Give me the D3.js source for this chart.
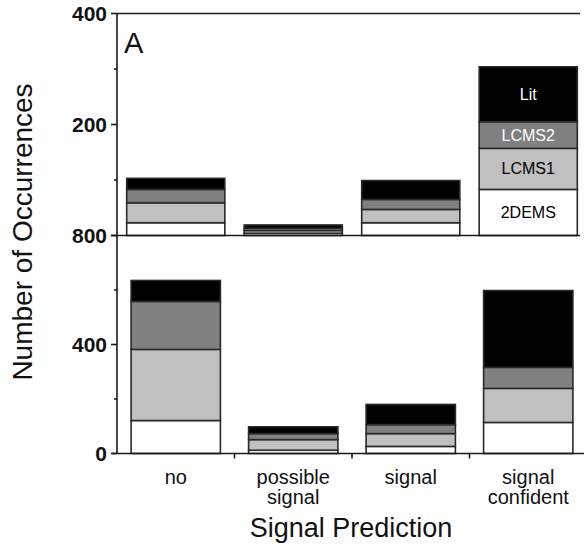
<!DOCTYPE html>
<html>
<head>
<meta charset="utf-8">
<script src="https://cdn.jsdelivr.net/npm/d3@7"></script>
<style>
  html, body { margin: 0; padding: 0; background: #fff; }
  svg { display: block; font-family: "Liberation Sans", Arial, sans-serif; }
</style>
</head>
<body>
<svg id="chart" width="584" height="548"></svg>
<script>
// ---- data ----
const categories = ["no", "possible signal", "signal", "signal confident"];
const categoryLines = [["no"], ["possible", "signal"], ["signal"], ["signal", "confident"]];
const seriesNames = ["2DEMS", "LCMS1", "LCMS2", "Lit"];
const seriesColors = ["#ffffff", "#c0c0c0", "#808080", "#000000"];
const seriesLabelColors = ["#000000", "#000000", "#ffffff", "#ffffff"];

// top panel (scale 0-400)
const top2DEMS = [23, 4, 23, 83];
const topLCMS1 = [36, 5, 24, 74];
const topLCMS2 = [24, 4, 18, 48];
const topLit   = [20, 6, 34, 99];

// bottom panel (scale 0-800)
const bot2DEMS = [121, 12, 26, 114];
const botLCMS1 = [261, 39, 47, 125];
const botLCMS2 = [176, 22, 33, 77];
const botLit   = [77, 25, 74, 282];

const topTicks = [0, 100, 200, 300, 400];
const topTickLabels = [200, 400];
const botTicks = [0, 200, 400, 600, 800];
const botTickLabels = [0, 400, 800];

// ---- build ----
const svg = d3.select("#chart");
const X0 = 117, X1 = 587;
const ink = "#1a1a1a";

function rows(s0, s1, s2, s3) {
  return categories.map((c, i) => ({cat: c, "2DEMS": s0[i], "LCMS1": s1[i], "LCMS2": s2[i], "Lit": s3[i]}));
}
const topData = rows(top2DEMS, topLCMS1, topLCMS2, topLit);
const botData = rows(bot2DEMS, botLCMS1, botLCMS2, botLit);

const xBound = d3.scaleBand().domain(categories).range([X0, X1]).padding(0);
const xTop = d3.scaleBand().domain(categories).range([X0, X1]).paddingInner(0.165).paddingOuter(0.0825);
const xBot = d3.scaleBand().domain(categories).range([X0, X1]).paddingInner(0.24).paddingOuter(0.12);

const yTop = d3.scaleLinear().domain([0, 400]).range([235.5, 13.5]);
const yBot = d3.scaleLinear().domain([0, 800]).range([453.5, 235.5]);

const stack = d3.stack().keys(seriesNames);

function drawBars(data, x, y, withLabels) {
  const layers = stack(data);
  const g = svg.append("g");
  layers.forEach((layer, li) => {
    g.selectAll(null).data(layer).enter().append("rect")
      .attr("x", d => x(d.data.cat))
      .attr("width", x.bandwidth())
      .attr("y", d => y(d[1]))
      .attr("height", d => y(d[0]) - y(d[1]))
      .attr("fill", seriesColors[li])
      .attr("stroke", "#2a2a2a")
      .attr("stroke-width", 1.6);
  });
  if (withLabels) {
    const ci = categories.length - 1;
    layers.forEach((layer, li) => {
      const d = layer[ci];
      g.append("text")
        .attr("x", x(categories[ci]) + x.bandwidth() / 2)
        .attr("y", (y(d[0]) + y(d[1])) / 2)
        .attr("text-anchor", "middle")
        .attr("dominant-baseline", "central")
        .attr("font-size", 16)
        .attr("fill", seriesLabelColors[li])
        .text(seriesNames[li]);
    });
  }
}

drawBars(topData, xTop, yTop, true);
drawBars(botData, xBot, yBot, false);

// frame / axis lines
const axisG = svg.append("g").attr("stroke", ink).attr("stroke-width", 1.6).attr("fill", "none");
axisG.append("line").attr("x1", X0).attr("x2", X0).attr("y1", yTop(400)).attr("y2", yBot(0));
axisG.append("line").attr("x1", X0).attr("x2", 580).attr("y1", yTop(400)).attr("y2", yTop(400));
axisG.append("line").attr("x1", X0).attr("x2", 580).attr("y1", yTop(0)).attr("y2", yTop(0));
axisG.append("line").attr("x1", X0 - 5).attr("x2", 584).attr("y1", yBot(0)).attr("y2", yBot(0));

// y ticks
topTicks.forEach(t => {
  const major = topTickLabels.includes(t) || t === 0;
  axisG.append("line").attr("x1", X0 - (major ? 6 : 3)).attr("x2", X0).attr("y1", yTop(t)).attr("y2", yTop(t));
});
botTicks.forEach(t => {
  const major = botTickLabels.includes(t);
  axisG.append("line").attr("x1", X0 - (major ? 6 : 3)).attr("x2", X0).attr("y1", yBot(t)).attr("y2", yBot(t));
});
// x ticks at category boundaries
categories.slice(1).forEach(c => {
  axisG.append("line").attr("x1", xBound(c)).attr("x2", xBound(c)).attr("y1", yBot(0)).attr("y2", yBot(0) + 5);
});

// tick labels
const lblG = svg.append("g").attr("font-size", 21).attr("font-weight", "bold").attr("fill", "#111").attr("text-anchor", "end");
topTickLabels.forEach(t => {
  lblG.append("text").attr("x", 107).attr("y", yTop(t)).attr("dominant-baseline", "central").text(t);
});
botTickLabels.forEach(t => {
  lblG.append("text").attr("x", 107).attr("y", yBot(t)).attr("dominant-baseline", "central").text(t);
});

// category labels
categories.forEach((c, i) => {
  const cx = xBound(c) + xBound.bandwidth() / 2;
  categoryLines[i].forEach((line, j) => {
    svg.append("text").attr("x", cx).attr("y", 484 + j * 20)
      .attr("text-anchor", "middle").attr("font-size", 20).attr("fill", "#111").text(line);
  });
});

// panel letter
svg.append("text").attr("x", 124).attr("y", 53).attr("font-size", 29).attr("fill", "#111").text("A");

// axis titles
svg.append("text").attr("x", 351).attr("y", 537).attr("text-anchor", "middle")
  .attr("font-size", 27).attr("fill", "#111").text("Signal Prediction");
svg.append("text").attr("transform", "translate(32,232) rotate(-90)").attr("text-anchor", "middle")
  .attr("font-size", 28).attr("fill", "#111").text("Number of Occurrences");
</script>
</body>
</html>
